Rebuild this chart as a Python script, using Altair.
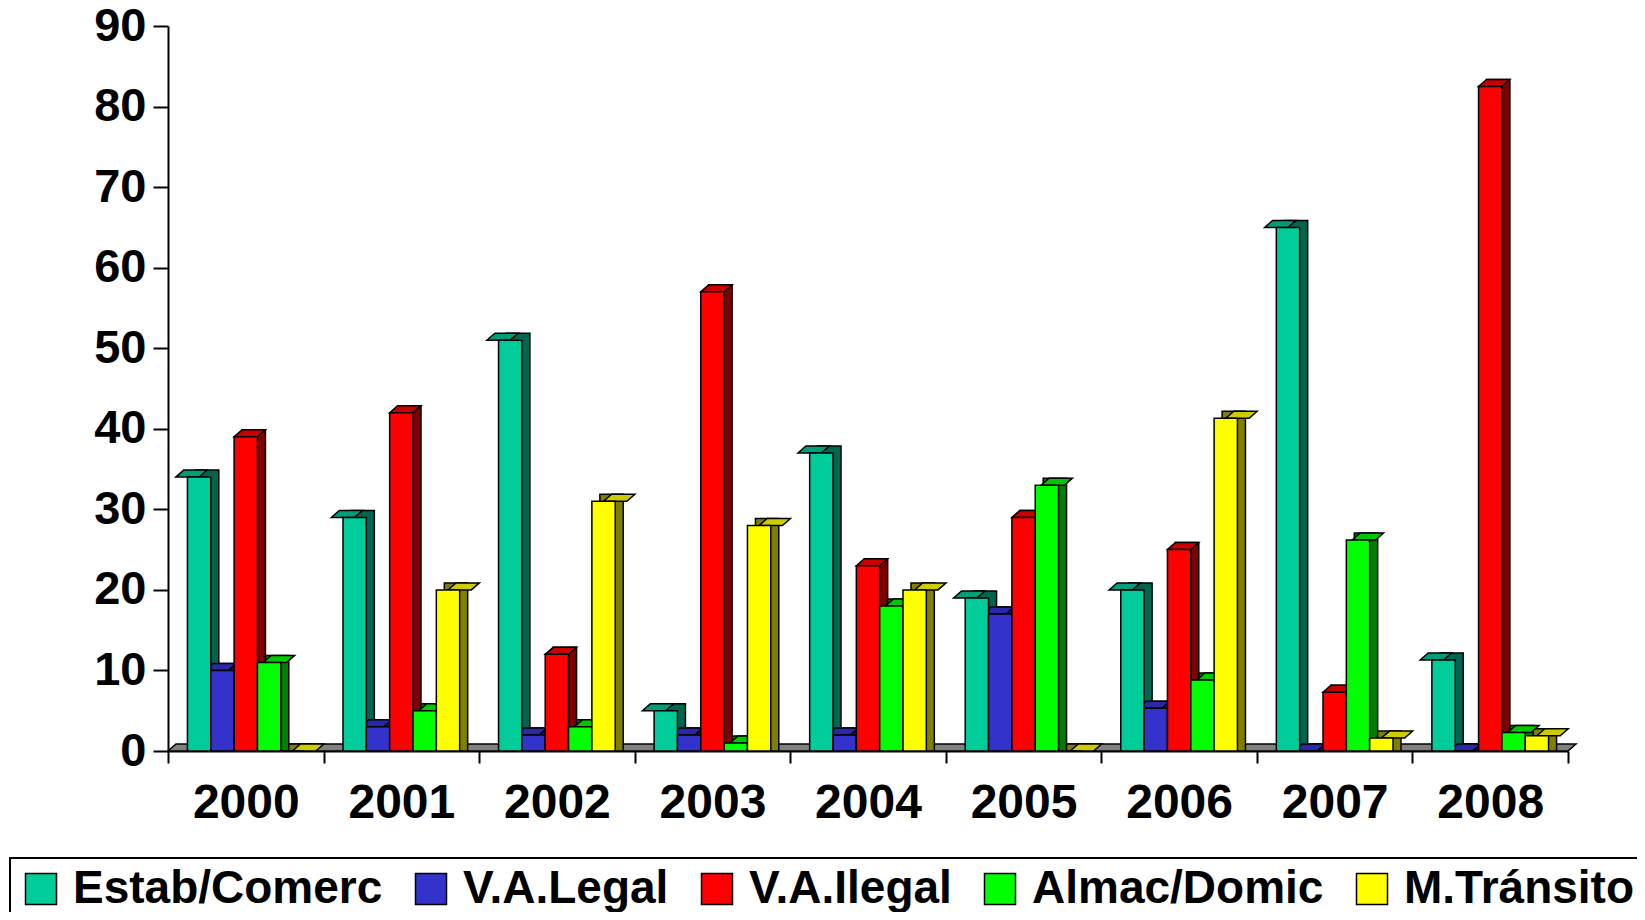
import altair as alt
import pandas as pd

# ---- data -------------------------------------------------------------
years = ["2000", "2001", "2002", "2003", "2004", "2005", "2006", "2007", "2008"]
series = ["Estab/Comerc", "V.A.Legal", "V.A.Ilegal", "Almac/Domic", "M.Tránsito"]

estab_comerc = [34, 29, 51, 5, 37, 19, 20, 65, 11.3]
va_legal = [10, 3, 2, 2, 2, 17, 5.3, 0, 0]
va_ilegal = [39, 42, 12, 57, 23, 29, 25, 7.3, 82.5]
almac_domic = [11, 5, 3, 1, 18, 33, 8.8, 26.2, 2.3]
m_transito = [0, 20, 31, 28, 20, 0, 41.3, 1.6, 1.9]

y_ticks = [0, 10, 20, 30, 40, 50, 60, 70, 80, 90]

# ---- style ------------------------------------------------------------
front_colors = ["#00CC99", "#3333CC", "#FF0000", "#00FF00", "#FFFF00"]
top_colors = ["#009E78", "#2828A8", "#C80000", "#00C800", "#CCCC00"]
side_colors = ["#006650", "#1A1A66", "#800000", "#008000", "#808000"]
FONT = "Liberation Sans"

W, H = 1400, 725
DX, DY = 8, 7
step = W / len(years)
pad = step * 0.125
band_w = step * 0.75
bar_w = band_w / len(series)

values = [estab_comerc, va_legal, va_ilegal, almac_domic, m_transito]
rows = []
for i, name in enumerate(series):
    for yr, v in zip(years, values[i]):
        rows.append({"year": yr, "series": name, "value": v,
                     "top": top_colors[i], "side": side_colors[i]})
df = pd.DataFrame(rows)


def para_path(x_left, width, dx, dy, s):
    pts = [(x_left, 0), (x_left + width, 0), (x_left + width + dx, -dy), (x_left + dx, -dy)]
    return "M " + " L ".join(f"{x / s:.5f} {y / s:.5f}" for x, y in pts) + " Z"


S_TOP = bar_w / 2 + DX + 1
top_shape = para_path(-bar_w / 2, bar_w, DX, DY, S_TOP)
S_FLOOR = W / 2 + DX + 1
floor_shape = para_path(-W / 2, W, DX, DY, S_FLOOR)

x_enc = alt.X(
    "year:N", sort=years,
    scale=alt.Scale(paddingInner=0, paddingOuter=0),
    axis=alt.Axis(title=None, labelAngle=0, labelFontSize=48, labelFont=FONT,
                  labelFontWeight="bold", labelColor="black", labelPadding=16,
                  tickBand="extent", tickSize=12, tickWidth=2, tickColor="black",
                  domainColor="black", domainWidth=2, grid=False),
)
y_enc = alt.Y(
    "value:Q", stack=None,
    scale=alt.Scale(domain=[0, 90], nice=False),
    axis=alt.Axis(title=None, values=y_ticks, labelFontSize=47, labelFont=FONT,
                  labelFontWeight="bold", labelColor="black", labelPadding=7,
                  tickSize=15, tickWidth=2, tickColor="black",
                  domainColor="black", domainWidth=2, grid=False),
)
xoff_front = alt.XOffset("series:N", sort=series,
                         scale=alt.Scale(range=[pad, pad + band_w], paddingInner=0, paddingOuter=0))
xoff_side = alt.XOffset("series:N", sort=series,
                        scale=alt.Scale(range=[pad + DX, pad + band_w + DX], paddingInner=0, paddingOuter=0))

base = alt.Chart(df)

floor = alt.Chart(pd.DataFrame({"value": [0]})).mark_point(
    shape=floor_shape, size=(2 * S_FLOOR) ** 2, filled=True, opacity=1,
    fill="#808080", stroke="black", strokeWidth=1.5,
).encode(x=alt.value(W / 2), y=y_enc)

side = base.mark_bar(stroke="black", strokeWidth=1.5, yOffset=-DY, y2Offset=-DY).encode(
    x=x_enc, xOffset=xoff_side, y=y_enc,
    color=alt.Color("side:N", scale=None),
)

top = base.mark_point(
    shape=top_shape, size=(2 * S_TOP) ** 2, filled=True, opacity=1,
    stroke="black", strokeWidth=1.5,
).encode(
    x=x_enc, xOffset=xoff_front, y=y_enc,
    color=alt.Color("top:N", scale=None),
)

front = base.mark_bar(stroke="black", strokeWidth=1.5).encode(
    x=x_enc, xOffset=xoff_front, y=y_enc,
    color=alt.Color(
        "series:N", sort=series,
        scale=alt.Scale(domain=series, range=front_colors),
        legend=alt.Legend(
            title=None, orient="none", legendX=-158, legendY=832,
            direction="horizontal", columns=5, symbolType="square",
            symbolSize=961, symbolStrokeColor="black", symbolStrokeWidth=1.5,
            symbolOpacity=1, labelFontSize=46, labelFont=FONT,
            labelFontWeight="bold", labelColor="black", labelOffset=9,
            columnPadding=25, strokeColor="black", padding=8, labelLimit=0,
        ),
    ),
)

chart = (
    alt.layer(floor, side, top, front)
    .resolve_scale(xOffset="independent")
    .properties(
        width=W, height=H,
        autosize=alt.AutoSizeParams(type="none"),
        padding={"left": 160, "top": 18, "right": 69, "bottom": 161},
        background="white",
    )
    .configure_view(stroke=None)
    .configure_legend(strokeWidth=2)
)

chart.save("out.html", embed_options={"renderer": "svg", "actions": False})
